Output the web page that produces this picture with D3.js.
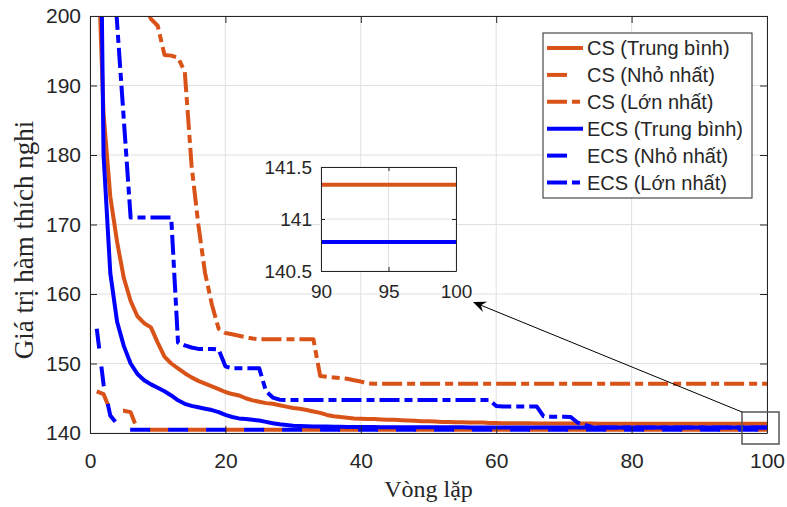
<!DOCTYPE html>
<html><head><meta charset="utf-8">
<script src="https://cdn.jsdelivr.net/npm/d3@7"></script>
<style>body{margin:0;background:#fff}</style>
</head><body><svg id="c" width="787" height="507"></svg>
<script>
// ---------------- DATA ----------------
const iterations = d3.range(1, 101);
const xTicks = [0, 20, 40, 60, 80, 100];
const yTicks = [140, 150, 160, 170, 180, 190, 200];
const insetXTicks = [90, 95, 100];
const insetYTicks = [140.5, 141, 141.5];
const insetYLabels = ["140.5", "141", "141.5"];
const seriesNames = ["CS (Trung bình)", "CS (Nhỏ nhất)", "CS (Lớn nhất)", "ECS (Trung bình)", "ECS (Nhỏ nhất)", "ECS (Lớn nhất)"];

const csMean = [
214,186,174,167.5,162.3,159,156.8,155.8,155.2,153,
151,150,149.3,148.6,148,147.5,147.1,146.7,146.3,145.9,
145.6,145.4,145.0,144.7,144.5,144.3,144.2,144.0,143.8,143.6,
143.5,143.3,143.1,142.9,142.6,142.4,142.3,142.2,142.1,142.05,
142.0,142.0,141.95,141.9,141.9,141.85,141.8,141.75,141.7,141.7,
141.65,141.6,141.6,141.55,141.55,141.5,141.5,141.5,141.45,141.45,
141.42,141.42,141.4,141.4,141.4,141.38,141.38,141.37,141.37,141.36,
141.36,141.35,141.35,141.35,141.34,141.34,141.34,141.34,141.33,141.33,
141.33,141.33,141.33,141.33,141.33,141.33,141.33,141.33,141.33,141.33,
141.33,141.33,141.33,141.33,141.33,141.33,141.33,141.33,141.33,141.33];

const csMin = [
146,145.6,143.2,143.2,143.2,143.0,140.45,140.45,140.45,140.45,
140.45,140.45,140.45,140.45,140.45,140.45,140.45,140.45,140.45,140.45,
140.45,140.45,140.45,140.45,140.45,140.45,140.45,140.45,140.45,140.45,
140.45,140.45,140.45,140.45,140.45,140.45,140.45,140.45,140.45,140.45,
140.45,140.45,140.45,140.45,140.45,140.45,140.45,140.45,140.45,140.45,
140.45,140.45,140.45,140.45,140.45,140.45,140.45,140.45,140.45,140.45,
140.45,140.45,140.45,140.45,140.45,140.45,140.45,140.45,140.45,140.45,
140.45,140.45,140.45,140.45,140.45,140.45,140.45,140.45,140.45,140.45,
140.45,140.45,140.45,140.45,140.45,140.45,140.45,140.45,140.45,140.45,
140.45,140.45,140.45,140.45,140.45,140.45,140.45,140.45,140.45,140.45];

const csMax = [
260,247,236,227,219,212,206,201.5,199.6,198.6,
194.4,194.3,194.0,192.0,178.5,170,163,158.5,155,154.4,
154.2,154.0,153.8,153.6,153.5,153.5,153.5,153.5,153.5,153.5,
153.5,153.5,153.5,148.2,148.1,148.0,147.9,147.8,147.6,147.4,
147.15,147.1,147.1,147.1,147.1,147.1,147.1,147.1,147.1,147.1,
147.1,147.1,147.1,147.1,147.1,147.1,147.1,147.1,147.1,147.1,
147.1,147.1,147.1,147.1,147.1,147.1,147.1,147.1,147.1,147.1,
147.1,147.1,147.1,147.1,147.1,147.1,147.1,147.1,147.1,147.1,
147.1,147.1,147.1,147.1,147.1,147.1,147.1,147.1,147.1,147.1,
147.1,147.1,147.1,147.1,147.1,147.1,147.1,147.1,147.1,147.1];

const ecsMean = [
262,180,163,156,152.5,150,148.5,147.6,147.0,146.5,
146.0,145.4,144.7,144.2,143.9,143.7,143.5,143.3,143.0,142.6,
142.3,142.1,142.0,141.9,141.8,141.6,141.4,141.25,141.15,141.05,
141.0,140.97,140.95,140.93,140.92,140.9,140.9,140.88,140.87,140.86,
140.85,140.85,140.84,140.84,140.83,140.83,140.83,140.82,140.82,140.82,
140.81,140.81,140.81,140.81,140.81,140.8,140.8,140.8,140.8,140.8,
140.8,140.8,140.8,140.8,140.8,140.79,140.79,140.79,140.79,140.79,
140.78,140.78,140.78,140.78,140.78,140.78,140.78,140.78,140.78,140.78,
140.78,140.78,140.78,140.78,140.78,140.78,140.78,140.78,140.78,140.78,
140.78,140.78,140.78,140.78,140.78,140.78,140.78,140.78,140.78,140.78];

const ecsMin = [
155,147,142.5,141.3,140.45,140.45,140.45,140.45,140.45,140.45,
140.45,140.45,140.45,140.45,140.45,140.45,140.45,140.45,140.45,140.45,
140.45,140.45,140.45,140.45,140.45,140.45,140.45,140.45,140.45,140.45,
140.45,140.45,140.45,140.45,140.45,140.45,140.45,140.45,140.45,140.45,
140.45,140.45,140.45,140.45,140.45,140.45,140.45,140.45,140.45,140.45,
140.45,140.45,140.45,140.45,140.45,140.45,140.45,140.45,140.45,140.45,
140.45,140.45,140.45,140.45,140.45,140.45,140.45,140.45,140.45,140.45,
140.45,140.45,140.45,140.45,140.45,140.45,140.45,140.45,140.45,140.45,
140.45,140.45,140.45,140.45,140.45,140.45,140.45,140.45,140.45,140.45,
140.45,140.45,140.45,140.45,140.45,140.45,140.45,140.45,140.45,140.45];

const ecsMax = [
250,230,214,199,185,171,171,171,171,171,
171,171,153,152.6,152.3,152.1,152.1,152.1,152.0,149.6,
149.3,149.3,149.3,149.3,149.3,146.0,145.1,144.8,144.75,144.75,
144.75,144.75,144.75,144.75,144.75,144.75,144.75,144.75,144.75,144.75,
144.75,144.75,144.75,144.75,144.75,144.75,144.75,144.75,144.75,144.75,
144.75,144.75,144.75,144.75,144.75,144.75,144.75,144.75,144.75,143.9,
143.8,143.8,143.8,143.8,143.8,143.8,142.4,142.35,142.35,142.35,
142.3,141.5,141.2,140.9,140.78,140.78,140.78,140.78,140.78,140.78,
140.78,140.78,140.78,140.78,140.78,140.78,140.78,140.78,140.78,140.78,
140.78,140.78,140.78,140.78,140.78,140.78,140.78,140.78,140.78,140.78];

// ---------------- STYLE / LAYOUT ----------------
const ORANGE = "#D95319", BLUE = "#0000FF", INK = "#262626", GRID = "#e0e0e0";
const DASH = "20,18", DASHDOT = "20,5,8,5";
const seriesValues = [csMean, csMin, csMax, ecsMean, ecsMin, ecsMax];
const seriesStyle = [
  {color: ORANGE, dash: null}, {color: ORANGE, dash: DASH}, {color: ORANGE, dash: DASHDOT},
  {color: BLUE, dash: null}, {color: BLUE, dash: DASH}, {color: BLUE, dash: DASHDOT}];
const LW = 4;
const SANS = "'Liberation Sans', Arial, Helvetica, sans-serif";
const SERIF = "'Liberation Serif', 'Times New Roman', serif";

const svg = d3.select("#c");
const X0 = 90, X1 = 767, Y0 = 16, Y1 = 433;
const x = d3.scaleLinear().domain([0, 100]).range([X0, X1]);
const y = d3.scaleLinear().domain([140, 200]).range([Y1, Y0]);

svg.append("rect").attr("width", 787).attr("height", 507).attr("fill", "#fff");

// grid
const g = svg.append("g");
g.selectAll(".gx").data(xTicks).join("line")
  .attr("x1", d => x(d)).attr("x2", d => x(d)).attr("y1", Y0).attr("y2", Y1)
  .attr("stroke", GRID).attr("stroke-width", 1);
g.selectAll(".gy").data(yTicks).join("line")
  .attr("x1", X0).attr("x2", X1).attr("y1", d => y(d)).attr("y2", d => y(d))
  .attr("stroke", GRID).attr("stroke-width", 1);

// clip
const defs = svg.append("defs");
defs.append("clipPath").attr("id", "clipMain").append("rect")
  .attr("x", X0).attr("y", Y0).attr("width", X1 - X0).attr("height", Y1 - Y0);

const line = d3.line().x((d, i) => x(iterations[i])).y(d => y(d));
const lg = svg.append("g").attr("clip-path", "url(#clipMain)");
seriesValues.forEach((vals, k) => {
  lg.append("path").attr("d", line(vals)).attr("fill", "none")
    .attr("stroke", seriesStyle[k].color).attr("stroke-width", LW)
    .attr("stroke-linejoin", "round")
    .attr("stroke-dasharray", seriesStyle[k].dash);
});

// axes
function styleAxis(sel, fs) {
  sel.attr("font-family", SANS).attr("font-size", fs);
  sel.selectAll("path.domain").attr("stroke", INK);
  sel.selectAll(".tick line").attr("stroke", INK);
  sel.selectAll(".tick text").attr("fill", INK);
}
svg.append("g").attr("transform", `translate(0,${Y1})`)
  .call(d3.axisBottom(x).tickValues(xTicks).tickSize(-7).tickSizeOuter(0).tickPadding(20))
  .call(s => styleAxis(s, 21));
svg.append("g").attr("transform", `translate(${X0},0)`)
  .call(d3.axisLeft(y).tickValues(yTicks).tickSize(-7).tickSizeOuter(0).tickPadding(9))
  .call(s => styleAxis(s, 21));
svg.append("g").attr("transform", `translate(0,${Y0})`)
  .call(d3.axisTop(x).tickValues(xTicks).tickSize(-7).tickSizeOuter(0).tickFormat(""))
  .call(s => styleAxis(s, 21));
svg.append("g").attr("transform", `translate(${X1},0)`)
  .call(d3.axisRight(y).tickValues(yTicks).tickSize(-7).tickSizeOuter(0).tickFormat(""))
  .call(s => styleAxis(s, 21));

// axis labels
svg.append("text").attr("x", (X0 + X1) / 2).attr("y", 497).attr("text-anchor", "middle")
  .attr("font-family", SERIF).attr("font-size", 24).attr("fill", INK).text("Vòng lặp");
svg.append("text").attr("transform", "translate(33,240) rotate(-90)").attr("text-anchor", "middle")
  .attr("font-family", SERIF).attr("font-size", 27).attr("fill", INK).text("Giá trị hàm thích nghi");

// zoom box + arrow
const ZB = {x: 742, y: 412, w: 37, h: 32};
svg.append("rect").attr("x", ZB.x).attr("y", ZB.y).attr("width", ZB.w).attr("height", ZB.h)
  .attr("fill", "none").attr("stroke", "#555").attr("stroke-width", 1.5);
const tail = [742, 412], tip = [473, 302];
const dx = tip[0] - tail[0], dy = tip[1] - tail[1], len = Math.hypot(dx, dy);
const u = [dx / len, dy / len], p = [-u[1], u[0]];
const L = 13, Wd = 5.5;
const back = [tip[0] - L * u[0], tip[1] - L * u[1]];
const notch = [tip[0] - 0.65 * L * u[0], tip[1] - 0.65 * L * u[1]];
svg.append("line").attr("x1", tail[0]).attr("y1", tail[1]).attr("x2", notch[0]).attr("y2", notch[1])
  .attr("stroke", "#000").attr("stroke-width", 1);
svg.append("path").attr("d", `M${tip}L${back[0] + Wd * p[0]},${back[1] + Wd * p[1]}L${notch}L${back[0] - Wd * p[0]},${back[1] - Wd * p[1]}Z`)
  .attr("fill", "#000");

// inset
const IX0 = 321, IX1 = 456, IY0 = 167, IY1 = 271;
const xi = d3.scaleLinear().domain([90, 100]).range([IX0, IX1]);
const yi = d3.scaleLinear().domain([140.5, 141.5]).range([IY1, IY0]);
const ig = svg.append("g");
ig.append("rect").attr("x", IX0).attr("y", IY0).attr("width", IX1 - IX0).attr("height", IY1 - IY0).attr("fill", "#fff");
ig.selectAll(".igx").data(insetXTicks).join("line")
  .attr("x1", d => xi(d)).attr("x2", d => xi(d)).attr("y1", IY0).attr("y2", IY1).attr("stroke", GRID);
ig.selectAll(".igy").data(insetYTicks).join("line")
  .attr("x1", IX0).attr("x2", IX1).attr("y1", d => yi(d)).attr("y2", d => yi(d)).attr("stroke", GRID);
defs.append("clipPath").attr("id", "clipInset").append("rect")
  .attr("x", IX0).attr("y", IY0).attr("width", IX1 - IX0).attr("height", IY1 - IY0);
const lineI = d3.line().x((d, i) => xi(iterations[i])).y(d => yi(d));
const ilg = ig.append("g").attr("clip-path", "url(#clipInset)");
seriesValues.forEach((vals, k) => {
  ilg.append("path").attr("d", lineI(vals)).attr("fill", "none")
    .attr("stroke", seriesStyle[k].color).attr("stroke-width", LW)
    .attr("stroke-dasharray", seriesStyle[k].dash);
});
ig.append("g").attr("transform", `translate(0,${IY1})`)
  .call(d3.axisBottom(xi).tickValues(insetXTicks).tickSize(-4).tickSizeOuter(0).tickPadding(14))
  .call(s => styleAxis(s, 19));
ig.append("g").attr("transform", `translate(${IX0},0)`)
  .call(d3.axisLeft(yi).tickValues(insetYTicks).tickFormat((d, i) => insetYLabels[i]).tickSize(-4).tickSizeOuter(0).tickPadding(9))
  .call(s => styleAxis(s, 19));
ig.append("g").attr("transform", `translate(0,${IY0})`)
  .call(d3.axisTop(xi).tickValues(insetXTicks).tickSize(-4).tickSizeOuter(0).tickFormat(""))
  .call(s => styleAxis(s, 19));
ig.append("g").attr("transform", `translate(${IX1},0)`)
  .call(d3.axisRight(yi).tickValues(insetYTicks).tickSize(-4).tickSizeOuter(0).tickFormat(""))
  .call(s => styleAxis(s, 19));

// legend
const LX = 543, LY = 33, LWd = 209, LH = 165, rowH = 26.9, row0 = 48;
const leg = svg.append("g");
leg.append("rect").attr("x", LX).attr("y", LY).attr("width", LWd).attr("height", LH)
  .attr("fill", "#fff").attr("stroke", INK).attr("stroke-width", 1);
seriesNames.forEach((name, k) => {
  const cy = row0 + k * rowH;
  leg.append("line").attr("x1", 547).attr("x2", 583).attr("y1", cy).attr("y2", cy)
    .attr("stroke", seriesStyle[k].color).attr("stroke-width", LW)
    .attr("stroke-dasharray", seriesStyle[k].dash);
  leg.append("text").attr("x", 587).attr("y", cy + 7).attr("font-family", SANS)
    .attr("font-size", 20).attr("fill", INK).text(name);
});
</script></body></html>
